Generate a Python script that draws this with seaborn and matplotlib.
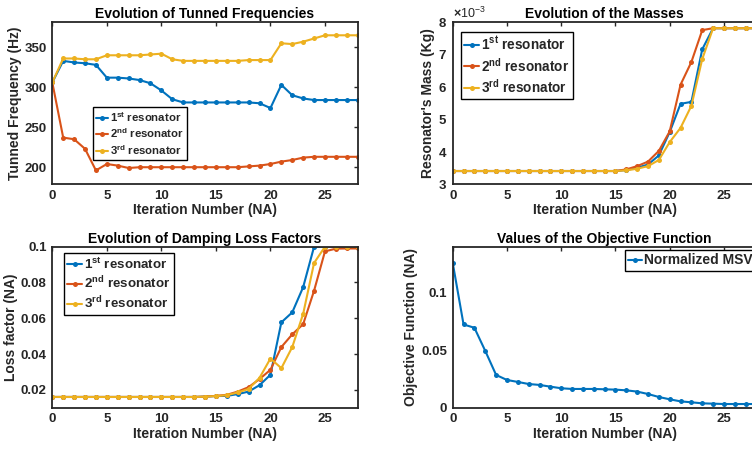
import matplotlib
matplotlib.use('Agg')
import matplotlib.pyplot as plt
import seaborn as sns
import pandas as pd
from matplotlib.ticker import ScalarFormatter

# ---------------- data ----------------
iterations = list(range(29))

freq_1 = [306, 333, 331, 330, 328, 312, 312, 311, 309, 305, 296, 285, 281, 281, 281,
          281, 281, 281, 281, 280, 274, 303, 290, 286, 284, 284, 284, 284, 284]
freq_2 = [306, 237, 235, 223, 196, 204, 202, 199, 200, 200, 200, 200, 200, 200, 200,
          200, 200, 200, 201, 202, 204, 207, 209, 212, 213, 213, 213, 213, 213]
freq_3 = [306, 336, 336, 335, 335, 340, 340, 340, 340, 341, 342, 335, 333, 333, 333,
          333, 333, 333, 334, 334, 334, 355, 354, 357, 361, 365, 365, 365, 365]

mass_1 = [3.4] * 16 + [3.43, 3.50, 3.60, 3.88, 4.60, 5.47, 5.53, 7.15, 7.8, 7.8, 7.8, 7.8, 7.8]
mass_2 = [3.4] * 16 + [3.45, 3.55, 3.69, 4.02, 4.62, 6.06, 6.76, 7.74, 7.8, 7.8, 7.8, 7.8, 7.8]
mass_3 = [3.4] * 16 + [3.42, 3.47, 3.55, 3.74, 4.29, 4.73, 5.41, 6.85, 7.8, 7.8, 7.8, 7.8, 7.8]
mass_1 = [v * 1e-3 for v in mass_1]
mass_2 = [v * 1e-3 for v in mass_2]
mass_3 = [v * 1e-3 for v in mass_3]

loss_1 = [0.016] * 14 + [0.0162, 0.0165, 0.0166, 0.0176, 0.0190, 0.0226, 0.0284, 0.0577,
                         0.0633, 0.0774, 0.1, 0.1, 0.1, 0.1, 0.1]
loss_2 = [0.016] * 14 + [0.0162, 0.0166, 0.0172, 0.0190, 0.0215, 0.0260, 0.0312, 0.0439,
                         0.0510, 0.0567, 0.0754, 0.0974, 0.0989, 0.099, 0.099]
loss_3 = [0.016] * 14 + [0.0162, 0.0165, 0.0170, 0.0185, 0.0205, 0.0267, 0.0375, 0.0321,
                         0.0439, 0.0625, 0.0909, 0.1, 0.1, 0.1, 0.1]

objective = [0.126, 0.0724, 0.0695, 0.0494, 0.0285, 0.0241, 0.0224, 0.0206, 0.0198, 0.0183,
             0.0169, 0.0163, 0.0163, 0.0163, 0.0160, 0.0157, 0.0151, 0.0140, 0.0119, 0.0093,
             0.0073, 0.0055, 0.0047, 0.0038, 0.0035, 0.0032, 0.0032, 0.0032, 0.0032]

series_labels = [r'1$^{st}$ resonator', r'2$^{nd}$ resonator', r'3$^{rd}$ resonator']
objective_label = 'Normalized MSV'
xlabel = 'Iteration Number (NA)'
colors = ['#0072BD', '#D95319', '#EDB120']

# ---------------- style ----------------
sns.set_style('white')
plt.rcParams['font.family'] = ['Liberation Sans', 'DejaVu Sans']
plt.rcParams['font.weight'] = 'bold'
plt.rcParams['axes.labelweight'] = 'bold'
plt.rcParams['axes.titleweight'] = 'bold'
plt.rcParams['mathtext.fontset'] = 'custom'
plt.rcParams['mathtext.rm'] = 'Liberation Sans:bold'
plt.rcParams['mathtext.bf'] = 'Liberation Sans:bold'
plt.rcParams['mathtext.default'] = 'bf'

AX_COLOR = '#262626'

fig = plt.figure(figsize=(7.52, 4.5), dpi=100)
W, H = 752.0, 450.0


def make_ax(x0, x1, y0, y1):
    return fig.add_axes([x0 / W, 1 - y1 / H, (x1 - x0) / W, (y1 - y0) / H])


ax1 = make_ax(52.3, 357.7, 21.7, 184.0)
ax2 = make_ax(452.7, 756.5, 21.7, 184.0)
ax3 = make_ax(52.3, 357.7, 246.7, 407.7)
ax4 = make_ax(452.7, 756.5, 246.7, 407.7)


def draw(ax, ys, labels):
    for y, lab, c in zip(ys, labels, colors):
        df = pd.DataFrame({'it': iterations, 'v': y})
        sns.lineplot(data=df, x='it', y='v', ax=ax, color=c, marker='o', markersize=3.6,
                     markeredgewidth=0, linewidth=1.5, label=lab)


def style(ax, title, ylabel):
    ax.set_xlim(0, 28)
    ax.set_xticks([0, 5, 10, 15, 20, 25])
    ax.set_title(title, fontsize=10, fontweight='bold', pad=3, color='black')
    ax.set_xlabel(xlabel, fontsize=10, fontweight='bold', labelpad=1, color=AX_COLOR)
    ax.set_ylabel(ylabel, fontsize=10, fontweight='bold', labelpad=2, color=AX_COLOR)
    ax.tick_params(direction='in', length=2.6, width=1.0, top=True, right=True,
                   labelsize=9.5, colors=AX_COLOR, pad=4)
    for lab in ax.get_xticklabels() + ax.get_yticklabels():
        lab.set_fontweight('bold')
    for s in ax.spines.values():
        s.set_visible(True)
        s.set_color(AX_COLOR)
        s.set_linewidth(1.3)


def legend(ax, loc, anchor, fs, hl=1.1):
    leg = ax.legend(loc=loc, bbox_to_anchor=anchor, fontsize=fs, frameon=True, fancybox=False,
                    edgecolor='black', framealpha=1, borderaxespad=0, borderpad=0.25,
                    handlelength=hl, handletextpad=0.15, labelspacing=0.25)
    leg.get_frame().set_linewidth(1.0)
    for t in leg.get_texts():
        t.set_fontweight('bold')
    return leg


# Panel 1
draw(ax1, [freq_1, freq_2, freq_3], series_labels)
style(ax1, 'Evolution of Tunned Frequencies', 'Tunned Frequency (Hz)')
ax1.set_ylim(179, 382)
ax1.set_yticks([200, 250, 300, 350])
legend(ax1, 'upper left', (0.133, 0.474), 8.2)

# Panel 2
draw(ax2, [mass_1, mass_2, mass_3], series_labels)
style(ax2, 'Evolution of the Masses', "Resonator's Mass (Kg)")
ax2.set_ylim(3e-3, 8e-3)
ax2.set_yticks([3e-3, 4e-3, 5e-3, 6e-3, 7e-3, 8e-3])
fmt = ScalarFormatter(useMathText=True)
fmt.set_powerlimits((-2, 2))
ax2.yaxis.set_major_formatter(fmt)
ax2.yaxis.get_offset_text().set_fontsize(9)
ax2.yaxis.get_offset_text().set_fontweight('normal')
legend(ax2, 'upper left', (0.027, 0.937), 9.8)

# Panel 3
draw(ax3, [loss_1, loss_2, loss_3], series_labels)
style(ax3, 'Evolution of Damping Loss Factors', 'Loss factor (NA)')
ax3.set_ylim(0.01, 0.1)
ax3.set_yticks([0.02, 0.04, 0.06, 0.08, 0.1])
ax3.set_yticklabels(['0.02', '0.04', '0.06', '0.08', '0.1'])
legend(ax3, 'upper left', (0.038, 0.961), 9.6)

# Panel 4
df4 = pd.DataFrame({'it': iterations, 'v': objective})
sns.lineplot(data=df4, x='it', y='v', ax=ax4, color=colors[0], marker='o', markersize=3.6,
             markeredgewidth=0, linewidth=1.5, label=objective_label)
style(ax4, 'Values of the Objective Function', 'Objective Function (NA)')
ax4.set_ylim(0, 0.14)
ax4.set_yticks([0, 0.05, 0.1])
ax4.set_yticklabels(['0', '0.05', '0.1'])
legend(ax4, 'upper right', (1.0, 0.98), 10, hl=1.0)

fig.savefig('out.png', dpi=100)
